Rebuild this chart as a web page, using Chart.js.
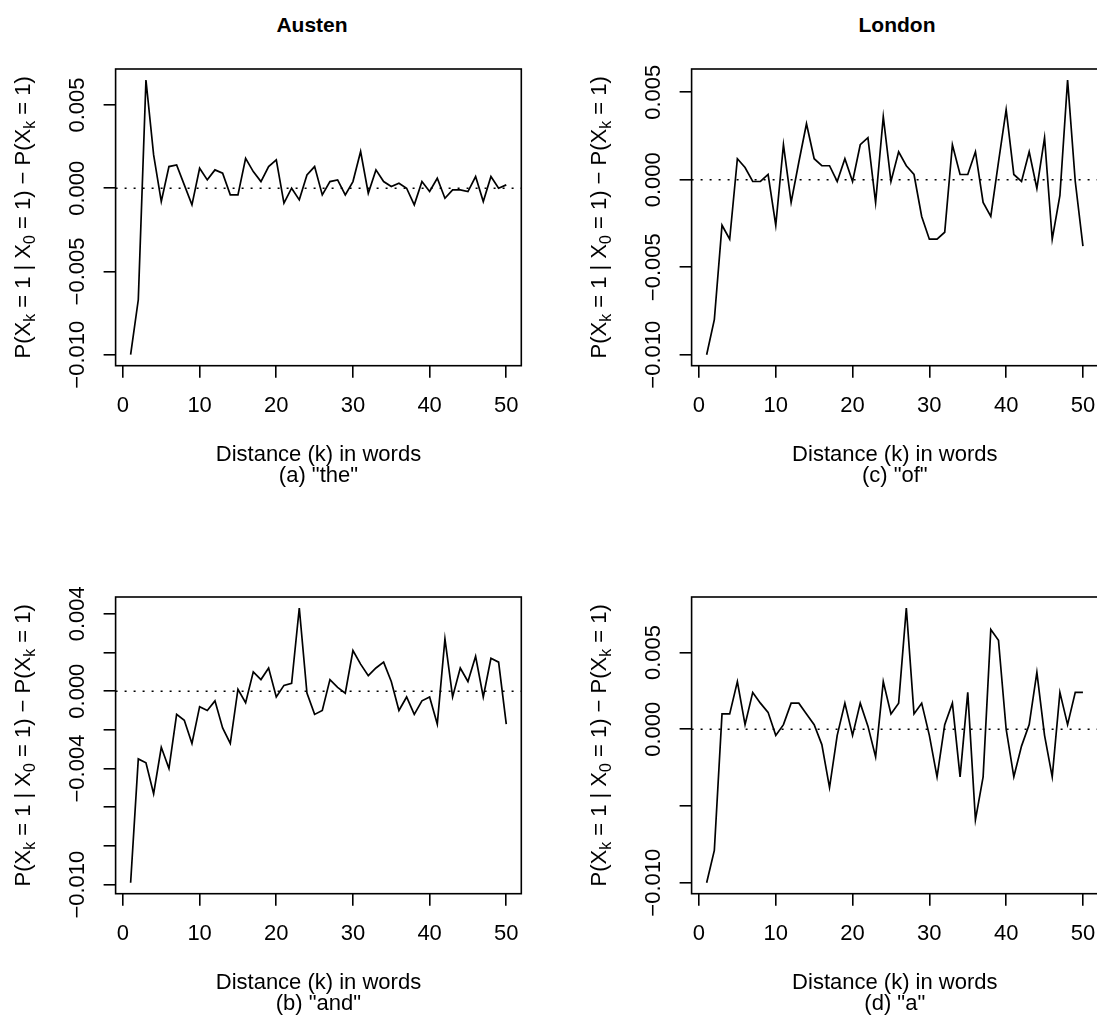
<!DOCTYPE html>
<html>
<head>
<meta charset="utf-8">
<script src="https://cdn.jsdelivr.net/npm/chart.js@4/dist/chart.umd.min.js"></script>
<style>
html, body { margin: 0; padding: 0; background: #fff; overflow: hidden; width: 1097px; height: 1021px; }
canvas { position: absolute; }
.ptitle { position: absolute; width: 400px; text-align: center; font: bold 21px 'Liberation Sans', Arial, Helvetica, sans-serif; color: #000; line-height: 26px; top: 12px; }
</style>
</head>
<body>
<div class="ptitle" id="t0" style="left:112px"></div>
<div class="ptitle" id="t1" style="left:697px"></div>
<canvas id="cA" width="548" height="490" style="left:0px;top:0px"></canvas>
<canvas id="cC" width="548" height="490" style="left:576px;top:0px"></canvas>
<canvas id="cB" width="548" height="490" style="left:0px;top:528px"></canvas>
<canvas id="cD" width="548" height="490" style="left:576px;top:528px"></canvas>
<script>
// ---------------- data ----------------
const distances = [1,2,3,4,5,6,7,8,9,10,11,12,13,14,15,16,17,18,19,20,21,22,23,24,25,
                   26,27,28,29,30,31,32,33,34,35,36,37,38,39,40,41,42,43,44,45,46,47,48,49,50];

const austenThe = [-0.0100,-0.0067,0.0065,0.0020,-0.0008,0.0013,0.0014,0.0002,-0.0010,0.0012,
                   0.0005,0.0011,0.0009,-0.0004,-0.0004,0.0018,0.0010,0.0004,0.0013,0.0017,
                   -0.0009,0.0000,-0.0007,0.0008,0.0013,-0.0004,0.0004,0.0005,-0.0004,0.0004,
                   0.0022,-0.0003,0.0011,0.0004,0.0001,0.0003,0.0000,-0.0010,0.0004,-0.0002,
                   0.0006,-0.0006,-0.0001,-0.0001,-0.0002,0.0007,-0.0008,0.0007,0.0000,0.0002];

const austenAnd = [-0.0099,-0.0035,-0.0037,-0.0053,-0.0029,-0.0040,-0.0012,-0.0015,-0.0027,-0.0008,
                   -0.0010,-0.0005,-0.0019,-0.0027,0.0001,-0.0006,0.0010,0.0006,0.0012,-0.0003,
                   0.0003,0.0004,0.0043,-0.0001,-0.0012,-0.0010,0.0006,0.0002,-0.0001,0.0021,
                   0.0014,0.0008,0.0012,0.0015,0.0005,-0.0010,-0.0003,-0.0012,-0.0005,-0.0003,
                   -0.0017,0.0027,-0.0003,0.0012,0.0005,0.0018,-0.0003,0.0017,0.0015,-0.0017];

const londonOf = [-0.0100,-0.0080,-0.0026,-0.0034,0.0012,0.0007,-0.0001,-0.0001,0.0003,-0.0026,
                  0.0020,-0.0013,0.0010,0.0032,0.0012,0.0008,0.0008,-0.0001,0.0012,-0.0001,
                  0.0020,0.0024,-0.0013,0.0036,-0.0001,0.0016,0.0008,0.0003,-0.0021,-0.0034,
                  -0.0034,-0.0030,0.0020,0.0003,0.0003,0.0016,-0.0013,-0.0021,0.0010,0.0040,
                  0.0003,-0.0001,0.0016,-0.0005,0.0024,-0.0034,-0.0009,0.0057,-0.0001,-0.0038];

const londonA = [-0.0100,-0.0079,0.0010,0.0010,0.0031,0.0003,0.0024,0.0017,0.0011,-0.0004,
                 0.0003,0.0017,0.0017,0.0010,0.0003,-0.0010,-0.0038,-0.0004,0.0017,-0.0004,
                 0.0017,0.0002,-0.0018,0.0031,0.0010,0.0017,0.0079,0.0010,0.0017,-0.0004,
                 -0.0031,0.0003,0.0017,-0.0031,0.0024,-0.0059,-0.0031,0.0065,0.0058,0.0000,
                 -0.0031,-0.0011,0.0003,0.0037,-0.0004,-0.0031,0.0024,0.0003,0.0024,0.0024];

const xTicks = [0, 10, 20, 30, 40, 50];
const xTickLabels = ['0', '10', '20', '30', '40', '50'];

const yTicksThe = [-0.010, -0.005, 0, 0.005];
const yLabelsThe = ['\u22120.010', '\u22120.005', '0.000', '0.005'];
const yTicksAnd = [-0.010, -0.008, -0.006, -0.004, -0.002, 0, 0.002, 0.004];
const yLabelsAnd = ['\u22120.010', '', '', '\u22120.004', '', '0.000', '', '0.004'];
const yTicksOf = [-0.010, -0.005, 0, 0.005];
const yLabelsOf = ['\u22120.010', '\u22120.005', '0.000', '0.005'];
const yTicksA = [-0.010, -0.005, 0, 0.005];
const yLabelsA = ['\u22120.010', '', '0.000', '0.005'];

const columnTitles = ['Austen', 'London'];
const xAxisTitle = 'Distance (k) in words';
const captions = ['(a) "the"', '(b) "and"', '(c) "of"', '(d) "a"'];
// y-axis title pieces: [text, isSubscript]
const yTitleParts = [['P(X', false], ['k', true], [' = 1 | X', false], ['0', true],
                     [' = 1) \u2212 P(X', false], ['k', true], [' = 1)', false]];

// ---------------- drawing ----------------
const FONT = "'Liberation Sans', Arial, Helvetica, sans-serif";
const FS = 22;
Chart.defaults.font.family = FONT;
Chart.defaults.font.size = FS;
Chart.defaults.color = '#000';

document.getElementById('t0').textContent = columnTitles[0];
document.getElementById('t1').textContent = columnTitles[1];

function measure(text, size) {
  const c = document.createElement('canvas').getContext('2d');
  c.font = size + 'px ' + FONT;
  return c.measureText(text).width;
}

const boxPlugin = {
  id: 'rbox',
  afterDatasetsDraw(chart) {
    const {ctx, chartArea: a} = chart;
    ctx.save();
    ctx.strokeStyle = '#000';
    ctx.lineWidth = 1.6;
    ctx.strokeRect(a.left, a.top, a.right - a.left, a.bottom - a.top);
    ctx.restore();
  }
};

const yTitlePlugin = {
  id: 'yTitleRich',
  afterDraw(chart, args, opts) {
    const {ctx, chartArea} = chart;
    const size = FS, sub = FS * 0.72;
    ctx.save();
    ctx.fillStyle = '#000';
    ctx.textAlign = 'left';
    ctx.textBaseline = 'alphabetic';
    let total = 0;
    const widths = yTitleParts.map(([t, s]) => {
      ctx.font = (s ? sub : size) + 'px ' + FONT;
      const w = ctx.measureText(t).width;
      total += w;
      return w;
    });
    const cy = (chartArea.top + chartArea.bottom) / 2;
    ctx.translate(opts.x, cy);
    ctx.rotate(-Math.PI / 2);
    let xp = -total / 2;
    yTitleParts.forEach(([t, s], i) => {
      ctx.font = (s ? sub : size) + 'px ' + FONT;
      ctx.fillText(t, xp, s ? size * 0.36 + size * 0.24 : size * 0.36);
      xp += widths[i];
    });
    ctx.restore();
  }
};

function rangeOf(vals) {
  const mn = Math.min(...vals), mx = Math.max(...vals);
  const ext = (mx - mn) * 0.04;
  return [mn - ext, mx + ext];
}

function makePanel(id, values, yTicks, yLabels, caption, padRight) {
  const [xMin, xMax] = rangeOf(distances);
  const [yMin, yMax] = rangeOf(values);
  const TL = 12;
  const widest = Math.max(...yLabels.map(l => measure(l, FS)));
  const labelCenterOffset = 38; // distance of y label centre from the box
  const yPad = labelCenterOffset - TL - widest / 2;
  const points = distances.map((k, i) => ({x: k, y: values[i]}));
  new Chart(document.getElementById(id), {
    type: 'line',
    data: {
      datasets: [
        { data: points, borderColor: '#000', borderWidth: 1.7, pointRadius: 0, tension: 0, fill: false },
        { data: [{x: xMin, y: 0}, {x: xMax, y: 0}], borderColor: '#000', borderWidth: 1.6,
          borderDash: [2, 7], pointRadius: 0, fill: false }
      ]
    },
    options: {
      responsive: false,
      animation: false,
      events: [],
      layout: { padding: { top: 69, right: padRight, left: 0, bottom: 0 } },
      plugins: {
        legend: { display: false },
        tooltip: { enabled: false },
        yTitleRich: { x: 22 }
      },
      scales: {
        x: {
          type: 'linear', min: xMin, max: xMax,
          afterBuildTicks: s => { s.ticks = xTicks.map(v => ({value: v})); },
          afterFit: s => { s.height = 490 - 69 - 296.7; },
          ticks: {
            callback: (v, i) => xTickLabels[i],
            padding: 15, maxRotation: 0, minRotation: 0, autoSkip: false,
            font: { size: FS, lineHeight: 1.2 }
          },
          grid: { drawOnChartArea: false, drawTicks: true, tickLength: TL, color: '#000', lineWidth: 1.6 },
          border: { display: false },
          title: {
            display: true, text: [xAxisTitle, caption],
            font: { size: FS, lineHeight: '21px' },
            padding: { top: 0, bottom: 3.8 }
          }
        },
        y: {
          type: 'linear', min: yMin, max: yMax,
          afterBuildTicks: s => { s.ticks = yTicks.map(v => ({value: v})); },
          afterFit: s => { s.width = 115.6; },
          ticks: {
            callback: (v, i) => yLabels[i],
            minRotation: 90, maxRotation: 90, crossAlign: 'center',
            padding: yPad, autoSkip: false,
            font: { size: FS, lineHeight: 1.2 }
          },
          grid: { drawOnChartArea: false, drawTicks: true, tickLength: TL, color: '#000', lineWidth: 1.6 },
          border: { display: false }
        }
      }
    },
    plugins: [boxPlugin, yTitlePlugin]
  });
}

makePanel('cA', austenThe, yTicksThe, yLabelsThe, captions[0], 26.7);
makePanel('cB', austenAnd, yTicksAnd, yLabelsAnd, captions[1], 26.7);
makePanel('cC', londonOf, yTicksOf, yLabelsOf, captions[2], 26.0);
makePanel('cD', londonA, yTicksA, yLabelsA, captions[3], 26.0);
</script>
</body>
</html>
